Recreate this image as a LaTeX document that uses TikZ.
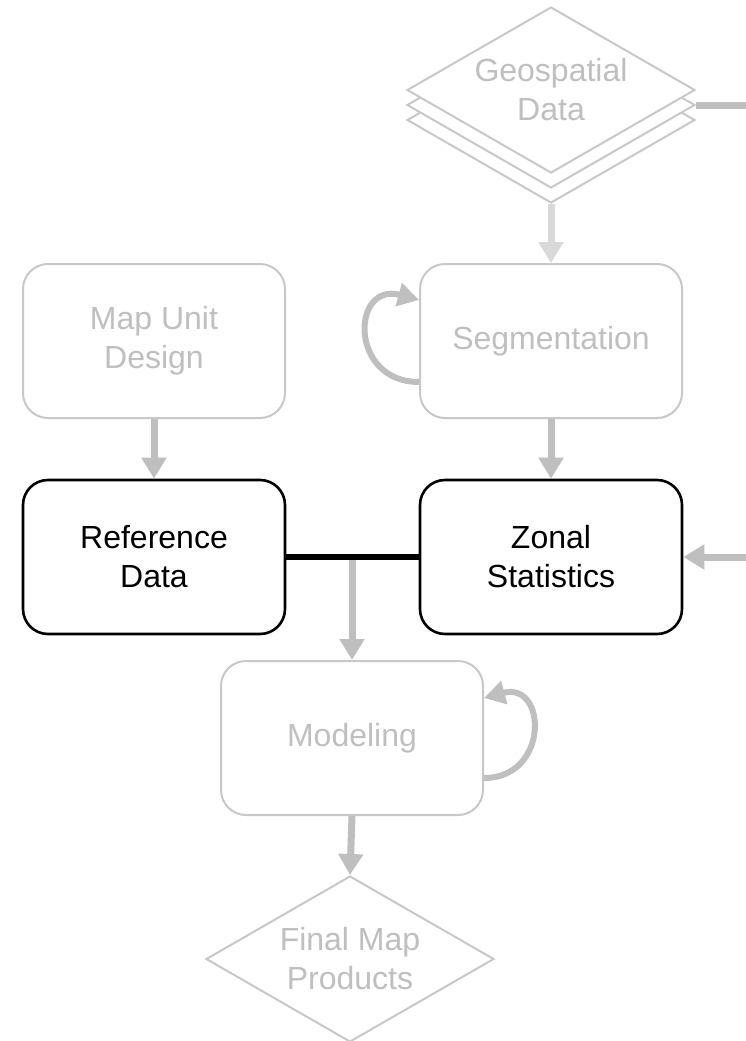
\documentclass[tikz,border=0pt]{standalone}
\usepackage{fontspec}
\setmainfont{Liberation Sans}
\usetikzlibrary{shapes.geometric}
\usetikzlibrary{arrows.meta}
\definecolor{faded}{RGB}{200,200,200}
\definecolor{flow}{RGB}{191,191,191}
\definecolor{paleflow}{RGB}{217,217,217}
\tikzset{
every picture/.style={x=1pt, y=-1pt},
%%%%%%%%%%  Node styles
step box/.style={draw=faded, line width=2pt, rounded corners=25pt,
                 minimum width=262pt, minimum height=154pt,
                 align=center, text=flow,
                 font=\fontsize{32}{39}\selectfont},
active box/.style={step box, draw=black, line width=2.6pt, text=black},
data/.style={diamond, draw=faded, line width=2pt, fill=white,
             inner sep=0pt, aspect=1.73, minimum width=288pt,
             minimum height=166pt, align=center, text=flow,
             font=\fontsize{32}{39}\selectfont},
%%%% different line styles:
flowline/.style={draw=flow, line width=7pt,
                 -{Triangle[length=21pt,width=24pt]}},
paleline/.style={flowline, draw=paleflow, fill=paleflow},
loopline/.style={draw=flow, line width=6pt,
                 -{Triangle[length=21pt,width=23pt]}},
joinline/.style={draw=black, line width=6pt}
}

\begin{document}
\begin{tikzpicture}
\useasboundingbox (0,0) rectangle (746,1041);
%%%%%%% stacked data layers
\node[data] (geoC) at (551,120) {};
\node[data] (geoB) at (551,105) {};
\node[data] (geo) at (551,90) {Geospatial\\Data};
%%%%%%% boxes
\node[step box] (design) at (154,341) {Map Unit\\Design};
\node[step box] (seg) at (551,341) {Segmentation};
\node[active box] (ref) at (154,557) {Reference\\Data};
\node[active box] (zonal) at (551,557) {Zonal\\Statistics};
\node[step box] (model) at (352,738) {Modeling};
\node[data] (final) at (350,959) {Final Map\\Products};
%%%%%%% free ends
\coordinate (geoout) at (746,105);
\coordinate (zonalin) at (746,557);
\coordinate (join) at (352,557);
%%%%%%% connectors
\draw[flowline,-] (geoB.east) -- (geoout);
\draw[paleline] (geoC.south) -- (seg.north);
\draw[flowline] (design) -- (ref);
\draw[flowline] (seg) -- (zonal);
\draw[flowline] (zonalin) -- (zonal.east);
\draw[flowline] (join) -- (model.north);
\draw[joinline] (ref.east) -- (zonal.west);
\draw[flowline] (model.south) -- (final.north);
\draw[loopline] ([yshift=-41pt]seg.west) to[out=180,in=165,looseness=2.2]
  ([yshift=41pt]seg.west);
\draw[loopline] ([yshift=-40pt]model.east) to[out=0,in=15,looseness=2.1]
  ([yshift=40pt]model.east);
\end{tikzpicture}
\end{document}
